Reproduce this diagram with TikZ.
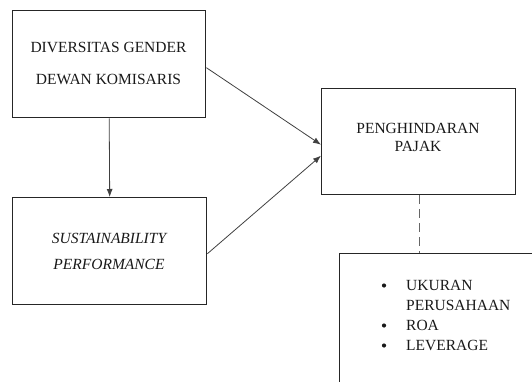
\documentclass[tikz,border=0pt]{standalone}
\usepackage{fontspec}
\newfontfamily\tnr{Liberation Serif}
\usetikzlibrary{arrows.meta}
\begin{document}
\begin{tikzpicture}[x=1pt,y=-1pt,
  box/.style={draw=black!85,line width=1.4pt,inner sep=0pt,anchor=north west},
  lbl/.style={font=\tnr\fontsize{15.5}{18.6}\selectfont,text=black!90,align=center,inner sep=0pt},
  item/.style={font=\tnr\fontsize{15.5}{18.6}\selectfont,text=black!90,anchor=base west,inner sep=0pt},
  conn/.style={draw=black!75,line width=0.8pt,-{Latex[length=8pt,width=6pt]}}]
\useasboundingbox (0,0) rectangle (532,382);
\clip (0,0) rectangle (532,382);
\node[box,minimum width=193pt,minimum height=107pt] (b1) at (12,10) {};
\node[lbl] (t1) at (108.5,63) {DIVERSITAS GENDER\\[13.4pt]DEWAN KOMISARIS};
\node[box,minimum width=194pt,minimum height=107pt] (b2) at (12,197) {};
\node[lbl] (t2) at (109,251) {\itshape SUSTAINABILITY\\[7.4pt]\itshape PERFORMANCE};
\node[box,minimum width=194pt,minimum height=106pt] (b3) at (321,88) {};
\node[lbl] (t3) at (418,137.5) {PENGHINDARAN\\PAJAK};
\node[box,minimum width=220pt,minimum height=160pt] (b4) at (339,253) {};
\foreach \n/\y/\t in {a/290/UKURAN,b/310/PERUSAHAAN,c/330/ROA,d/350/LEVERAGE}{
  \node[item] (i\n) at (406,\y) {\t};
}
\foreach \n in {a,c,d}{
  \fill[black!90] ([xshift=-22pt,yshift=4.5pt]i\n.base west) circle (2.1pt);
}
\draw[conn] (b1.south) -- (b2.north);
\draw[conn] ([yshift=-3.5pt]b1.east) -- ([yshift=-3pt]b3.west);
\draw[conn] ([yshift=-2.5pt]b2.east) -- ([yshift=-14pt]b3.west);
\draw[draw=black!60,line width=0.8pt,dash pattern=on 9pt off 5pt] ([xshift=1pt]b3.south) -- ([xshift=-30pt]b4.north);
\end{tikzpicture}
\end{document}
